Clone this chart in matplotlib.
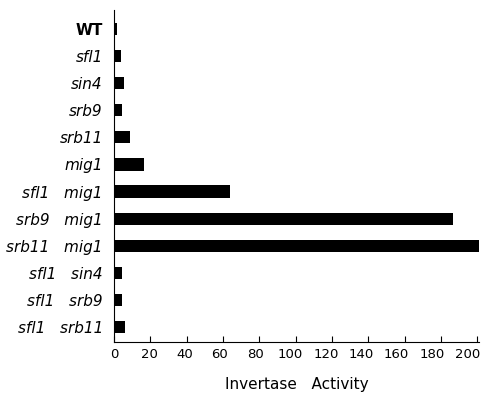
import matplotlib
matplotlib.use("Agg")
import matplotlib.pyplot as plt
import matplotlib.transforms as mtransforms

strains = ["WT", "sfl1", "sin4", "srb9", "srb11", "mig1", "sfl1   mig1",
           "srb9   mig1", "srb11   mig1", "sfl1   sin4", "sfl1   srb9", "sfl1   srb11"]
activity = [1.8, 3.7, 5.5, 4.4, 8.6, 16.6, 63.7, 186.5, 201, 4.4, 4.4, 6.0]
xticks = [0, 20, 40, 60, 80, 100, 120, 140, 160, 180, 200]

fig = plt.figure(figsize=(4.82, 4.01), dpi=100)
ax = fig.add_axes([114/482, 1-342/401, 365/482, 332/401])
pos = list(range(len(strains)))
ax.barh(pos, activity, height=0.45, color="black")
ax.set_ylim(11.55, -0.7)
ax.set_xlim(0, 201)
ax.set_yticks(pos)
ax.set_yticklabels(strains)
for i, lab in enumerate(ax.get_yticklabels()):
    if i == 0:
        lab.set_fontweight("bold")
    else:
        lab.set_fontstyle("italic")
    lab.set_fontsize(11)
ax.tick_params(axis="y", length=0, pad=8)
ax.set_xticks(xticks)
ax.tick_params(axis="x", direction="in", length=4, labelsize=9.5, pad=4)
for t, lab in zip(xticks, ax.get_xticklabels()):
    off = mtransforms.ScaledTranslation(-t * 0.05 / 100, 0, fig.dpi_scale_trans)
    lab.set_transform(lab.get_transform() + off)
for s in ["top", "right"]:
    ax.spines[s].set_visible(False)
ax.set_xlabel("Invertase   Activity", fontsize=11, labelpad=12)
fig.savefig("out.png", dpi=100)
